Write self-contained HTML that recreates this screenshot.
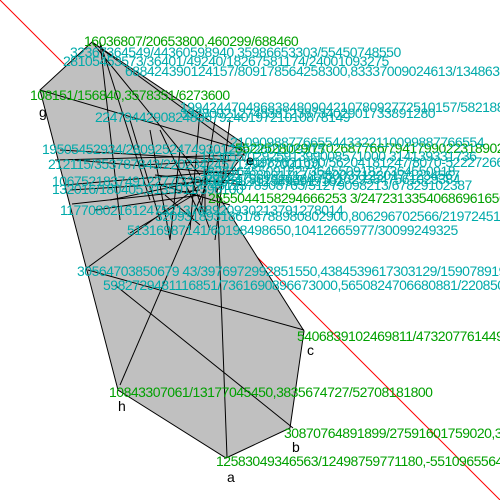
<!DOCTYPE html>
<html><head><meta charset="utf-8"><style>
html,body{margin:0;padding:0;background:#fff;}
svg{display:block;}
text{font-family:"Liberation Sans",sans-serif;font-size:14px;letter-spacing:-0.5px;}
.c{fill:#00aaaa}.g{fill:#00a000}.k{fill:#000}
</style></head><body>
<svg id="fig" width="500" height="500" viewBox="0 0 500 500">
<line x1="0" y1="0" x2="500" y2="500" stroke="#ff0000" stroke-width="1"/>
<polygon id="hull" fill="#c0c0c0" stroke="#000" stroke-width="1"/>
<g id="segs" stroke="#000" stroke-width="1"></g>
<g id="labels"></g>
</svg>
<script>
const hullX=[92,243,245,216,304,290,226,118,40];
const hullY=[42,143,152,192,331,428,458,390,90];
const segX1=[227,120,88,115,87,130,72,92,40,92,100,100,130,150,200,60,55,65,70,95,110,160,180,205,215,230,140,155,160,165,185,75];
const segY1=[457,385,270,285,268,233,204,42,90,42,42,42,120,130,110,150,160,185,190,210,200,130,150,160,120,120,165,175,185,195,160,160];
const segX2=[217,207,304,293,203,197,200,200,243,240,120,150,160,170,190,230,245,240,235,200,205,200,170,205,200,215,245,245,230,200,210,245];
const segY2=[187,183,330,428,183,193,190,175,150,150,220,200,220,240,230,160,155,170,180,195,180,215,240,215,215,240,160,185,205,225,230,175];
const labTxt=["16036807/20653800,460299/688460","32367364549/44360598940,35986653303/55450748550","28105453573/36401/49240/18267581174/24001093275","688424390124157/809178564258300,83337009024613/13486309445","108151/156840,3578351/6273600","g","19942447048683848090421078092772510157/5821887","22479442908248357924019721010878149","19505452934/28092524749301269/2601109315","5522528029/7702687766/79417990223189024","133655/0292591399008571000,314139331736","212115/353787843/2202342457129477000,10","40985621690/56204181247/8070-5222726621498782941136823626868","e","10675218374912277/3288827812/123899919102","132016/180405,3135911/590100","2555044158294666253 3/247231335406869616560","117708021612475213768920930213791278014","3209318931861/8788980802900,806296702566/21972451","51316987141/60198498650,10412665977/30099249325","30564703850679 43/3976972992851550,4384539617303129/15907891971","5982729481116851/7361690896673000,5650824706680881/22085072","5406839102469811/47320776144999","c","10843307061/13177045450,3835674727/52708181800","h","30870764891899/27591601759020,321","b","12583049346563/12498759771180,-55109655643","a","39021788091717/1780037123017/1234567","4512378908765/51279098213/67829102387","33280921274838123873402901733891280","18273645509182736455091827364550918","29384756102938475610293847561029384","21090988776655443322110099887766554"];
const labX=[84,70,63,125,30,39,180,95,42,235,200,48,245,246,52,52,208,60,155,127,77,103,297,307,109,118,284,292,216,227,205,210,180,200,205,230];
const labY=[46,57,66,76,100,117,112,122,154,153,161,169,167,165,186,194,203,215,221,235,276,290,341,355,397,411,438,452,466,482,180,190,118,176,184,147];
const labCls=["g","c","c","c","g","k","c","c","c","g","c","c","c","k","c","c","g","c","c","c","c","c","g","k","g","k","g","k","g","k","c","c","c","c","c","c"];
const NS="http://www.w3.org/2000/svg";
document.getElementById('hull').setAttribute('points',hullX.map((x,i)=>x+','+hullY[i]).join(' '));
const sg=document.getElementById('segs');
segX1.forEach((x,i)=>{const l=document.createElementNS(NS,'line');
l.setAttribute('x1',x);l.setAttribute('y1',segY1[i]);l.setAttribute('x2',segX2[i]);l.setAttribute('y2',segY2[i]);


sg.appendChild(l);});
const lg=document.getElementById('labels');
labTxt.forEach((t,i)=>{const e=document.createElementNS(NS,'text');
e.setAttribute('x',labX[i]);e.setAttribute('y',labY[i]);e.setAttribute('class',labCls[i]);e.textContent=t;


lg.appendChild(e);});
</script>
</body></html>
